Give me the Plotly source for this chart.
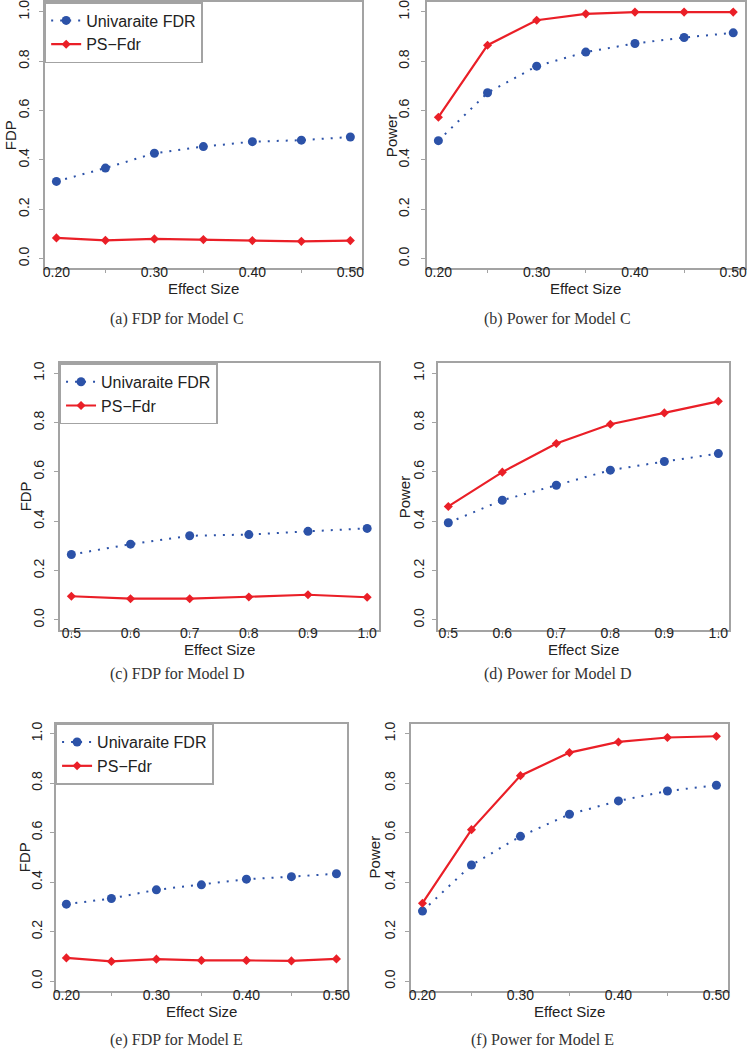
import plotly.graph_objects as go

# ---------------- data ----------------
effect_CE = [0.20, 0.25, 0.30, 0.35, 0.40, 0.45, 0.50]
effect_D = [0.5, 0.6, 0.7, 0.8, 0.9, 1.0]

fdp_uni_C = [0.313, 0.367, 0.427, 0.454, 0.474, 0.480, 0.493]
fdp_ps_C = [0.084, 0.074, 0.080, 0.077, 0.073, 0.070, 0.073]
pow_uni_C = [0.478, 0.672, 0.780, 0.837, 0.872, 0.896, 0.915]
pow_ps_C = [0.573, 0.865, 0.966, 0.992, 0.999, 0.999, 0.999]

fdp_uni_D = [0.265, 0.307, 0.341, 0.346, 0.359, 0.371]
fdp_ps_D = [0.096, 0.086, 0.086, 0.093, 0.102, 0.092]
pow_uni_D = [0.394, 0.485, 0.546, 0.607, 0.642, 0.674]
pow_ps_D = [0.460, 0.599, 0.715, 0.793, 0.839, 0.886]

fdp_uni_E = [0.311, 0.334, 0.369, 0.389, 0.412, 0.422, 0.434]
fdp_ps_E = [0.094, 0.080, 0.089, 0.084, 0.084, 0.082, 0.090]
pow_uni_E = [0.283, 0.469, 0.585, 0.674, 0.728, 0.768, 0.791]
pow_ps_E = [0.315, 0.612, 0.830, 0.923, 0.966, 0.984, 0.989]

series_names = ["Univaraite FDR", "PS\u2212Fdr"]
y_ticks = [0.0, 0.2, 0.4, 0.6, 0.8, 1.0]
y_ticktext = ["0.0", "0.2", "0.4", "0.6", "0.8", "1.0"]
x_ticktext_CE = ["0.20", "", "0.30", "", "0.40", "", "0.50"]
x_ticktext_D = ["0.5", "0.6", "0.7", "0.8", "0.9", "1.0"]
captions = ["(a) FDP for Model C", "(b) Power for Model C",
            "(c) FDP for Model D", "(d) Power for Model D",
            "(e) FDP for Model E", "(f) Power for Model E"]
y_titles = ["FDP", "Power", "FDP", "Power", "FDP", "Power"]
x_title = "Effect Size"

# ---------------- layout helpers ----------------
W, H = 752, 1050
BLUE = "#2c52a8"
RED = "#ea1f27"
GRAY = "#a3a3a3"
SANS = "Liberation Sans, Arial, sans-serif"
SERIF = "Liberation Serif, Times New Roman, serif"
TXT = "#222222"

# panel boxes in pixels: (left, right, top, bottom)
boxes = [(42, 362, 0, 267), (427, 748, 0, 267),
         (57, 379, 362, 629), (438, 732, 362, 629),
         (53, 347, 723, 991), (411, 731, 723, 991)]
caption_pos = [(175, 318), (559, 318), (176, 673), (559, 673), (175, 1040), (544, 1040)]
ytitle_x = [7, 391, 23, 405, 22, 374]
ylab_standoff = [4, 6, 4, 2, 2, 4]

panels = [
    (effect_CE, fdp_uni_C, fdp_ps_C, x_ticktext_CE, "legend"),
    (effect_CE, pow_uni_C, pow_ps_C, x_ticktext_CE, None),
    (effect_D, fdp_uni_D, fdp_ps_D, x_ticktext_D, "legend2"),
    (effect_D, pow_uni_D, pow_ps_D, x_ticktext_D, None),
    (effect_CE, fdp_uni_E, fdp_ps_E, x_ticktext_CE, "legend3"),
    (effect_CE, pow_uni_E, pow_ps_E, x_ticktext_CE, None),
]

fig = go.Figure()
annotations = []
layout = {}

for i, (xs, uni, ps, xtt, leg) in enumerate(panels):
    n = i + 1
    xa = "x" if n == 1 else f"x{n}"
    ya = "y" if n == 1 else f"y{n}"
    l, r, t, b = boxes[i]
    span = xs[-1] - xs[0]
    xrange = [xs[0] - 0.04 * span, xs[-1] + 0.04 * span]

    show = leg is not None
    fig.add_trace(go.Scatter(
        x=xs, y=uni, xaxis=xa, yaxis=ya, name=series_names[0],
        mode="lines+markers", showlegend=show, legend=leg if show else "legend",
        line=dict(color=BLUE, width=2, dash="2px,7px"),
        marker=dict(symbol="circle", size=9, color=BLUE)))
    fig.add_trace(go.Scatter(
        x=xs, y=ps, xaxis=xa, yaxis=ya, name=series_names[1],
        mode="lines+markers", showlegend=show, legend=leg if show else "legend",
        line=dict(color=RED, width=2.2),
        marker=dict(symbol="diamond", size=7, color=RED)))

    common = dict(showline=True, linecolor=GRAY, linewidth=1.5, mirror=True,
                  ticks="outside", tickcolor=GRAY, tickwidth=1,
                  showgrid=False, zeroline=False, ticklabeloverflow="allow",
                  tickfont=dict(family=SANS, size=14, color=TXT))
    layout["xaxis" if n == 1 else f"xaxis{n}"] = dict(
        domain=[l / W, r / W], anchor=ya, range=xrange,
        tickmode="array", tickvals=xs, ticktext=xtt, ticklen=3,
        ticklabelstandoff=-13, **common)
    layout["yaxis" if n == 1 else f"yaxis{n}"] = dict(
        domain=[1 - b / H, 1 - t / H], anchor=xa, range=[-0.04, 1.04],
        tickmode="array", tickvals=y_ticks, ticktext=y_ticktext, tickangle=-90,
        ticklen=4, ticklabelstandoff=ylab_standoff[i], **common)

    if show:
        layout[leg] = dict(x=l / W, y=1 - t / H, xanchor="left", yanchor="top",
                           xref="paper", yref="paper",
                           bgcolor="white", bordercolor=GRAY, borderwidth=1.5,
                           font=dict(family=SANS, size=16, color=TXT),
                           itemwidth=30, tracegroupgap=0)

    # axis titles and captions
    annotations.append(dict(x=(l + r) / 2 / W, y=1 - (b + 20) / H, xref="paper", yref="paper",
                            text=x_title, showarrow=False, xanchor="center", yanchor="middle",
                            font=dict(family=SANS, size=15, color=TXT)))
    annotations.append(dict(x=ytitle_x[i] / W, y=1 - (t + b) / 2 / H, xref="paper", yref="paper",
                            text=y_titles[i], showarrow=False, textangle=-90,
                            xanchor="center", yanchor="middle",
                            font=dict(family=SANS, size=15, color=TXT)))
    cx, cy = caption_pos[i]
    annotations.append(dict(x=cx / W, y=1 - cy / H, xref="paper", yref="paper",
                            text=captions[i], showarrow=False, xanchor="center", yanchor="middle",
                            font=dict(family=SERIF, size=16, color="#333333")))

fig.update_layout(width=W, height=H, margin=dict(l=0, r=0, t=0, b=0),
                  paper_bgcolor="white", plot_bgcolor="white",
                  annotations=annotations, **layout)

fig.write_html("out.html", config={"displayModeBar": False},
               post_script="document.body.style.margin='0';")
